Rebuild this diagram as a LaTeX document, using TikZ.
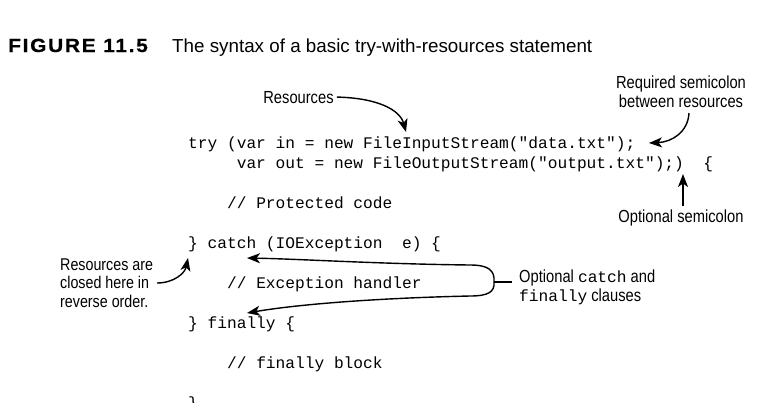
\documentclass[tikz,border=0pt]{standalone}
\usepackage{fontspec}
\setmainfont{Liberation Sans}[FakeStretch=0.84]
\newfontfamily\codefont{Liberation Mono}
\newfontfamily\figfont{Liberation Sans}[FakeStretch=1.1,LetterSpace=9,FakeBold=0.6]
\newfontfamily\captfont{Liberation Sans}
\usetikzlibrary{arrows.meta}
\tikzset{
  code/.style={anchor=base west,inner sep=0pt,font=\codefont\fontsize{16.2}{20}\selectfont},
  lbl/.style={anchor=base,inner sep=0pt,font=\fontsize{17.5}{19}\selectfont},
  arr/.style={line width=1.4pt,-{Stealth[length=13pt,width=10pt,inset=3.5pt]}},
  plain/.style={line width=1.4pt}
}
\newcommand{\cd}[1]{{\codefont\fontsize{16.2}{20}\selectfont #1}}
\begin{document}
\begin{tikzpicture}[x=1pt,y=-1pt]
\useasboundingbox[fill=white] (0,0) rectangle (766,402);
% title
\node[anchor=base west,inner sep=0pt,font=\figfont\bfseries\fontsize{19}{22}\selectfont] (fig) at (8,52) {FIGURE 11.5};
\node[anchor=base west,inner sep=0pt,font=\captfont\fontsize{18.8}{22}\selectfont] (cap) at (172,52) {The syntax of a basic try-with-resources statement};
% code
\node[code] (l1) at (188,148) {try (var in = new FileInputStream("data.txt");};
\node[code] (l2) at (236.6,168) {var out = new FileOutputStream("output.txt");)\ \ \{};
\node[code] (l3) at (226.9,208) {// Protected code};
\node[code] (l4) at (188,248) {\} catch (IOException\ \ e) \{};
\node[code] (l5) at (226.9,288) {// Exception handler};
\node[code] (l6) at (188,328) {\} finally \{};
\node[code] (l7) at (226.9,368) {// finally block};
\node[code] (l8) at (188,408) {\}};
% labels
\node[lbl] (res) at (298.5,103) {Resources};
\node[lbl] (req) at (681,88) {\begin{tabular}[t]{@{}c@{}}Required semicolon\\between resources\end{tabular}};
\node[lbl] (opt) at (681,222) {Optional semicolon};
\node[lbl,anchor=base west,font=\fontsize{17}{18.5}\selectfont] (closed) at (60,270) {\begin{tabular}[t]{@{}l@{}}Resources are\\closed here in\\reverse order.\end{tabular}};
\node[lbl,anchor=base west] (cf) at (519,282) {\begin{tabular}[t]{@{}l@{}}Optional \cd{catch} and\\\cd{finally} clauses\end{tabular}};
% connector points
\coordinate (resA) at (res.east);
\coordinate (resT) at (406,132);
\coordinate (reqA) at (689,113);
\coordinate (reqT) at (649,143);
\coordinate (optA) at (683,206);
\coordinate (optT) at (683,174);
\coordinate (clA) at (157,283);
\coordinate (clT) at (188,258);
\coordinate (j) at (494,282);
\coordinate (cfA) at (512,282);
\coordinate (ct) at (247,258);
\coordinate (ft) at (247,313);
% connectors
\draw[arr] ([xshift=3pt]resA) .. controls (378,98) and (400,110) .. (resT);
\draw[arr] (reqA) .. controls (688,132) and (672,142) .. (reqT);
\draw[arr] (optA) -- (optT);
\draw[arr] (clA) .. controls (174,283) and (185,273) .. (clT);
\draw[plain] (j) -- (cfA);
\draw[arr] (j) .. controls (495,270) and (488,265) .. (470,265) .. controls (380,264) and (300,259) .. (ct);
\draw[arr] (j) .. controls (495,292) and (488,296) .. (470,296) .. controls (380,298) and (300,304) .. (ft);
\end{tikzpicture}
\end{document}
